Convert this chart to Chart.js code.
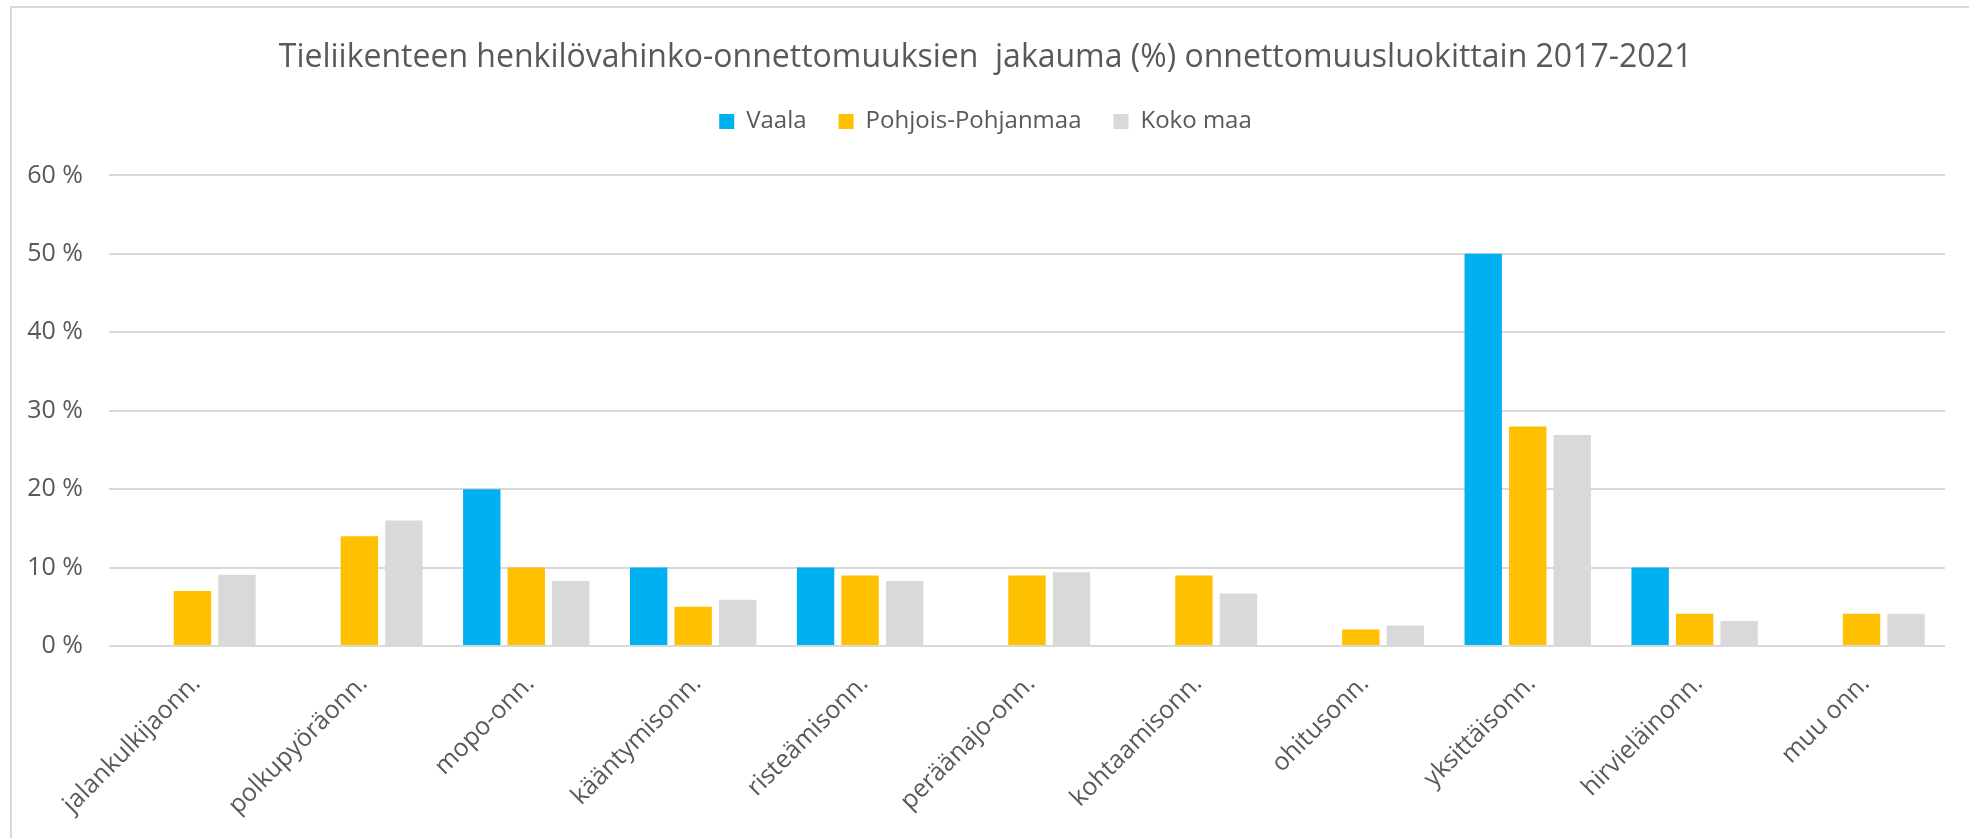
<!DOCTYPE html>
<html lang="fi">
  <head>
    <meta charset="UTF-8" />
    <title>Tieliikenteen henkilövahinko-onnettomuudet</title>
    <style>
      body {
        margin: 0;
        background: #ffffff;
        overflow: hidden;
      }
      .frame {
        position: absolute;
        left: 10px;
        top: 6px;
        width: 2000px;
        height: 900px;
        border-left: 2px solid #d9d9d9;
        border-top: 2px solid #d9d9d9;
      }
      #chart {
        position: absolute;
        left: 0;
        top: 0;
      }
    </style>
  </head>
  <body>
    <div class="frame"></div>
    <canvas id="chart" width="1969" height="838"></canvas>
    <script src="https://cdn.jsdelivr.net/npm/chart.js"></script>
    <script>
      const categories = [
        "jalankulkijaonn.",
        "polkupyöräonn.",
        "mopo-onn.",
        "kääntymisonn.",
        "risteämisonn.",
        "peräänajo-onn.",
        "kohtaamisonn.",
        "ohitusonn.",
        "yksittäisonn.",
        "hirvieläinonn.",
        "muu onn.",
      ];
      const seriesNames = ["Vaala", "Pohjois-Pohjanmaa", "Koko maa"];
      const vaala = [0, 0, 20, 10, 10, 0, 0, 0, 50, 10, 0];
      const pohjoisPohjanmaa = [7, 14, 10, 5, 9, 9, 9, 2.1, 28, 4.1, 4.1];
      const kokoMaa = [9.1, 16, 8.3, 5.9, 8.3, 9.4, 6.7, 2.6, 26.9, 3.2, 4.1];
      const yTickLabels = ["0 %", "10 %", "20 %", "30 %", "40 %", "50 %", "60 %"];

      const textColor = "#595959";
      const gridColor = "#d9d9d9";
      const fontFamily = "'Open Sans', sans-serif";

      // extra space between legend and plot area
      const legendGap = {
        id: "legendGap",
        beforeInit(chart) {
          const fit = chart.legend.fit;
          chart.legend.fit = function () {
            fit.bind(chart.legend)();
            this.height += 32;
          };
        },
      };

      const data = {
        labels: categories,
        datasets: [
          { label: seriesNames[0], data: vaala, backgroundColor: "#00b0f0" },
          { label: seriesNames[1], data: pohjoisPohjanmaa, backgroundColor: "#ffc000" },
          { label: seriesNames[2], data: kokoMaa, backgroundColor: "#d9d9d9" },
        ],
      };

      new Chart(document.getElementById("chart"), {
        type: "bar",
        data: data,
        plugins: [legendGap],
        options: {
          responsive: false,
          animation: false,
          categoryPercentage: 0.8,
          barPercentage: 0.84,
          layout: { padding: { left: 26, right: 24, top: 0, bottom: 0 } },
          plugins: {
            title: {
              display: true,
              text: "Tieliikenteen henkilövahinko-onnettomuuksien  jakauma (%) onnettomuusluokittain 2017-2021",
              color: textColor,
              font: { family: fontFamily, size: 32, weight: "normal" },
              padding: { top: 39, bottom: 0 },
            },
            legend: {
              position: "top",
              labels: {
                color: textColor,
                font: { family: fontFamily, size: 24 },
                boxWidth: 15,
                boxHeight: 15,
                padding: 32,
              },
            },
            tooltip: { enabled: false },
          },
          scales: {
            x: {
              grid: { display: false },
              border: { display: false },
              ticks: {
                color: textColor,
                font: { family: fontFamily, size: 25 },
                minRotation: 45,
                maxRotation: 45,
                autoSkip: false,
                padding: 15,
                labelOffset: 4,
              },
              afterFit(scale) {
                scale.height = 192;
              },
            },
            y: {
              min: 0,
              max: 60,
              grid: { color: gridColor, lineWidth: 2, drawTicks: false },
              border: { display: false },
              ticks: {
                stepSize: 10,
                color: textColor,
                font: { family: fontFamily, size: 25 },
                padding: 26,
                callback: (v, i) => yTickLabels[i],
              },
              afterFit(scale) {
                scale.width = 83;
              },
            },
          },
        },
      });
    </script>
  </body>
</html>
